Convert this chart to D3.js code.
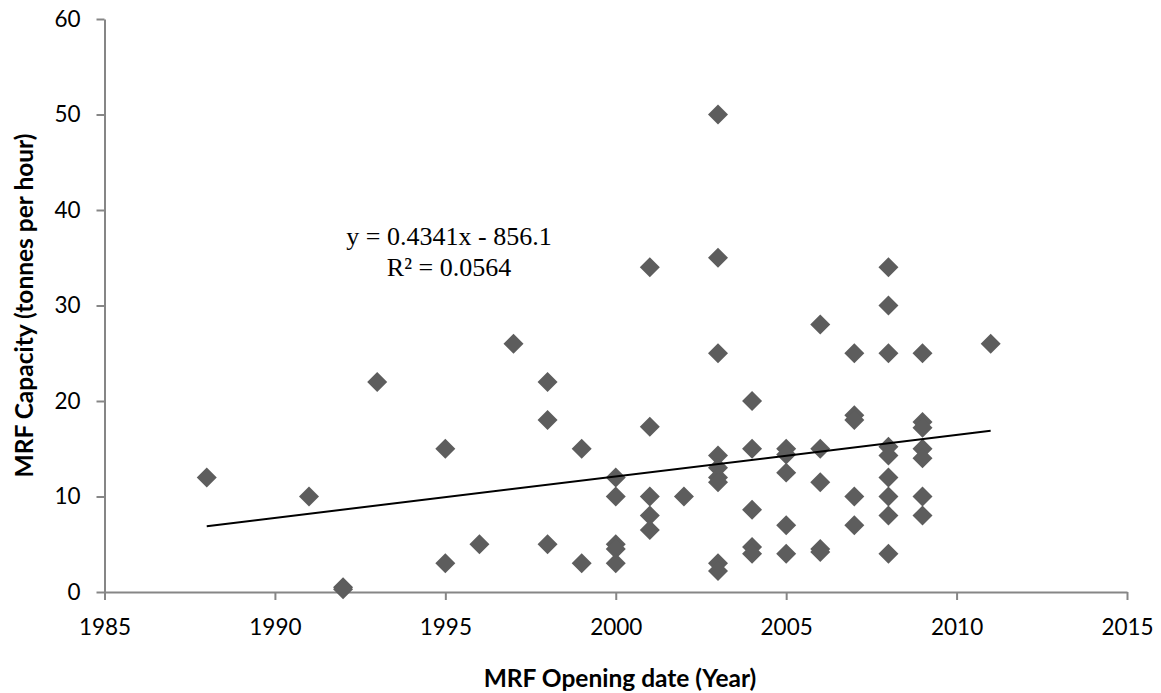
<!DOCTYPE html>
<html>
<head>
<meta charset="utf-8">
<script src="https://cdn.jsdelivr.net/npm/d3@7"></script>
<style>
  body { margin: 0; background: #fff; }
  svg { display: block; }
</style>
</head>
<body>
<svg id="chart" width="1161" height="693"></svg>
<script>
// MRF opening year and capacity (tonnes per hour)
const years = [
  1988, 1991, 1992, 1992, 1993, 1995, 1995, 1996,
  1997, 1998, 1998, 1998, 1999, 1999,
  2000, 2000, 2000, 2000, 2000,
  2001, 2001, 2001, 2001, 2001, 2002,
  2003, 2003, 2003, 2003, 2003, 2003, 2003, 2003, 2003,
  2004, 2004, 2004, 2004, 2004,
  2005, 2005, 2005, 2005, 2005,
  2006, 2006, 2006, 2006, 2006,
  2007, 2007, 2007, 2007, 2007,
  2008, 2008, 2008, 2008, 2008, 2008, 2008, 2008, 2008,
  2009, 2009, 2009, 2009, 2009, 2009, 2009,
  2011
];
const capacity = [
  12, 10, 0.5, 0.3, 22, 15, 3, 5,
  26, 22, 18, 5, 15, 3,
  12, 10, 5, 4.5, 3,
  34, 17.3, 10, 8, 6.5, 10,
  50, 35, 25, 14.3, 13, 12, 11.5, 3, 2.2,
  20, 15, 8.6, 4.7, 4,
  15, 14.4, 12.5, 7, 4,
  28, 15, 11.5, 4.5, 4.2,
  25, 18.5, 18, 10, 7,
  34, 30, 25, 15.2, 14.3, 12, 10, 8, 4,
  25, 17.8, 17.2, 15, 14, 10, 8,
  26
];
const xTicks = [1985, 1990, 1995, 2000, 2005, 2010, 2015];
const yTicks = [0, 10, 20, 30, 40, 50, 60];
// linear trend shown on the chart
const trendSlope = 0.4341;
const trendIntercept = -856.1;
const trendLabel = ["y = 0.4341x - 856.1", "R\u00B2 = 0.0564"];

const points = years.map((yr, i) => ({ year: yr, cap: capacity[i] }));

const svg = d3.select('#chart');
const plotLeft = 104.5, plotRight = 1127, plotTop = 19, plotBottom = 592;

const x = d3.scaleLinear().domain([1985, 2015]).range([plotLeft, plotRight]);
const y = d3.scaleLinear().domain([0, 60]).range([plotBottom, plotTop]);

const axisColor = '#868686';
const tickFont = 'Lato, "Open Sans", sans-serif';

// y axis
const yAxis = svg.append('g')
  .attr('transform', `translate(${plotLeft},0)`)
  .call(d3.axisLeft(y).tickValues(yTicks).tickSize(8).tickPadding(16).tickSizeOuter(0));

// x axis
const xAxis = svg.append('g')
  .attr('transform', `translate(0,${plotBottom})`)
  .call(d3.axisBottom(x).tickValues(xTicks).tickFormat(d3.format('d')).tickSize(8).tickPadding(19).tickSizeOuter(0));

[xAxis, yAxis].forEach(g => {
  g.select('.domain').attr('stroke', axisColor).attr('stroke-width', 2);
  g.selectAll('.tick line').attr('stroke', axisColor).attr('stroke-width', 2);
  g.selectAll('.tick text')
    .attr('fill', '#000')
    .style('font-family', tickFont)
    .style('font-size', '22.5px');
});

// markers
svg.append('g')
  .selectAll('path')
  .data(points)
  .join('path')
  .attr('d', d3.symbol().type(d3.symbolSquare).size(200))
  .attr('transform', d => `translate(${x(d.year)},${y(d.cap)}) rotate(45)`)
  .attr('fill', '#5d5d5d');

// trend line
const trendX = [d3.min(years), d3.max(years)];
svg.append('line')
  .attr('x1', x(trendX[0]))
  .attr('y1', y(trendSlope * trendX[0] + trendIntercept))
  .attr('x2', x(trendX[1]))
  .attr('y2', y(trendSlope * trendX[1] + trendIntercept))
  .attr('stroke', '#000')
  .attr('stroke-width', 2);

// equation label
svg.append('g')
  .selectAll('text')
  .data(trendLabel)
  .join('text')
  .attr('x', 449)
  .attr('y', (d, i) => 245 + i * 31)
  .attr('text-anchor', 'middle')
  .style('font-family', '"Liberation Serif", "Times New Roman", serif')
  .style('font-size', '26px')
  .text(d => d);

// axis titles
svg.append('text')
  .attr('x', 620)
  .attr('y', 687)
  .attr('text-anchor', 'middle')
  .style('font-family', tickFont)
  .style('font-weight', 'bold')
  .style('font-size', '24.5px')
  .text('MRF Opening date (Year)');

svg.append('text')
  .attr('transform', `translate(33,${(plotTop + plotBottom) / 2}) rotate(-90)`)
  .attr('text-anchor', 'middle')
  .style('font-family', tickFont)
  .style('font-weight', 'bold')
  .style('font-size', '24.5px')
  .text('MRF Capacity (tonnes per hour)');
</script>
</body>
</html>
